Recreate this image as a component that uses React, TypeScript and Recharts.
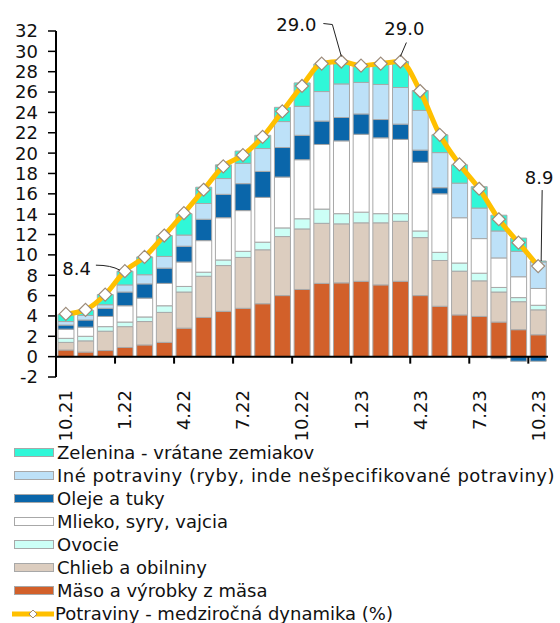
import React from "react";
import {
  ComposedChart,
  Bar,
  Line,
  XAxis,
  YAxis,
  ReferenceLine,
  LabelList,
} from "recharts";

const months = [
  "10.21", "11.21", "12.21", "1.22", "2.22", "3.22", "4.22", "5.22", "6.22",
  "7.22", "8.22", "9.22", "10.22", "11.22", "12.22", "1.23", "2.23", "3.23",
  "4.23", "5.23", "6.23", "7.23", "8.23", "9.23", "10.23",
];

// stacked contributions, bottom to top
const maso = [0.65, 0.45, 0.6, 0.9, 1.15, 1.4, 2.8, 3.85, 4.45, 4.75, 5.2, 6.0, 6.6, 7.2, 7.25, 7.4, 7.05, 7.4, 6.0, 4.95, 4.1, 3.95, 3.4, 2.65, 2.15];
const chlieb = [0.75, 1.1, 1.9, 2.05, 2.3, 2.95, 3.55, 4.05, 4.5, 5.0, 5.3, 5.8, 5.95, 5.9, 5.8, 5.75, 6.1, 5.9, 5.7, 4.5, 4.3, 3.5, 2.95, 2.75, 2.45];
const ovocie = [0.4, 0.45, 0.45, 0.45, 0.45, 0.65, 0.55, 0.4, 0.55, 0.6, 0.75, 0.85, 1.0, 1.4, 1.0, 1.05, 0.9, 0.75, 0.65, 0.8, 0.8, 0.75, 0.45, 0.4, 0.45];
const mlieko = [0.9, 0.9, 1.0, 1.6, 1.85, 2.2, 2.4, 3.1, 4.15, 4.0, 4.4, 5.0, 5.8, 6.35, 7.15, 7.65, 7.45, 7.3, 6.75, 5.75, 4.45, 3.4, 2.9, 2.05, 1.65];
const oleje = [0.4, 0.7, 0.8, 1.35, 1.4, 1.5, 1.55, 2.1, 2.3, 2.65, 2.55, 2.9, 2.4, 2.3, 2.3, 2.0, 1.8, 1.5, 1.2, 0.6, 0, -0.1, -0.2, -0.45, -0.45];
const ine = [0.35, 0.45, 0.35, 0.7, 0.9, 1.15, 1.1, 1.55, 1.55, 2.0, 2.25, 2.55, 2.85, 2.9, 3.3, 3.1, 3.45, 3.6, 3.9, 3.45, 3.4, 3.0, 2.65, 2.5, 2.6];
const zelenina = [0.7, 0.5, 1.0, 1.35, 1.75, 2.05, 2.1, 1.6, 1.35, 1.2, 1.3, 1.4, 2.3, 2.7, 2.2, 1.65, 2.05, 2.55, 1.95, 1.75, 1.8, 2.1, 1.55, 1.3, 0.1];

const potraviny = [4.2, 4.6, 6.1, 8.4, 9.8, 11.9, 14.1, 16.4, 18.7, 19.8, 21.6, 24.1, 26.6, 28.8, 29.0, 28.6, 28.8, 29.0, 26.1, 21.8, 18.9, 16.5, 13.5, 11.2, 8.9];

const yTicks = [-2, 0, 2, 4, 6, 8, 10, 12, 14, 16, 18, 20, 22, 24, 26, 28, 30, 32];
const labeled = [3, 14, 17, 24];

const series = [
  { key: "maso", name: "Mäso a výrobky z mäsa", color: "#D2602A", values: maso },
  { key: "chlieb", name: "Chlieb a obilniny", color: "#DCCDBF", values: chlieb },
  { key: "ovocie", name: "Ovocie", color: "#CCFFF6", values: ovocie },
  { key: "mlieko", name: "Mlieko, syry, vajcia", color: "#FFFFFF", values: mlieko },
  { key: "oleje", name: "Oleje a tuky", color: "#0A66AA", values: oleje },
  { key: "ine", name: "Iné potraviny (ryby, inde nešpecifikované potraviny)", color: "#BDE1F8", values: ine },
  { key: "zelenina", name: "Zelenina - vrátane zemiakov", color: "#30F7D8", values: zelenina },
];

const data = months.map((m, i) => {
  const row: Record<string, number | string> = { m, yoy: potraviny[i] };
  series.forEach((s) => (row[s.key] = s.values[i]));
  return row;
});

const FONT = "'DejaVu Sans', Verdana, sans-serif";
const TXT = "#111";
const BORDER = "#A8A8A8";
const LINE = "#FFC000";

function Diamond({ cx, cy }: any) {
  if (cx == null || cy == null) return null;
  const r = 6.5;
  return (
    <path
      d={`M${cx},${cy - r}L${cx + r},${cy}L${cx},${cy + r}L${cx - r},${cy}Z`}
      fill="#fff"
      stroke="#9C8B7A"
      strokeWidth={1.2}
    />
  );
}

function MonthTick({ x, y, payload }: any) {
  return (
    <g transform={`translate(${x},${y + 5}) rotate(-90)`}>
      <text x={0} y={0} dy="0.36em" textAnchor="end" fill={TXT} fontSize={18} fontFamily={FONT}>
        {payload.value}
      </text>
    </g>
  );
}

// x axis drawn on the zero line, with a tick every 3 months
function ZeroAxis(props: any) {
  const { x1, x2, y1 } = props;
  const band = (x2 - x1) / months.length;
  const ticks = [];
  for (let k = 0; k * 3 < months.length; k++) {
    const tx = x1 + k * 3 * band;
    ticks.push(<line key={k} x1={tx} x2={tx} y1={y1} y2={y1 + 7} stroke="#000" strokeWidth={2} />);
  }
  return (
    <g>
      <line x1={x1} x2={x2} y1={y1} y2={y1} stroke="#000" strokeWidth={2} />
      {ticks}
    </g>
  );
}

function PointLabel({ x, y, value, index }: any) {
  if (!labeled.includes(index)) return null;
  const txt = Number(value).toFixed(1);
  const common = { fill: TXT, fontSize: 18, fontFamily: FONT };
  if (index === 3) {
    return (
      <g>
        <path d={`M${x - 29},${y - 6} Q${x - 14},${y - 6} ${x - 5},${y - 1}`} fill="none" stroke="#222" strokeWidth={1} />
        <text x={x - 34} y={y - 3} dy="0.36em" textAnchor="end" {...common}>{txt}</text>
      </g>
    );
  }
  if (index === 14) {
    return (
      <g>
        <path d={`M${x - 18},${y - 38} L${x - 9},${y - 37} L${x},${y - 5}`} fill="none" stroke="#222" strokeWidth={1} />
        <text x={x - 25} y={y - 37} dy="0.36em" textAnchor="end" {...common}>{txt}</text>
      </g>
    );
  }
  if (index === 17) {
    return (
      <g>
        <path d={`M${x + 6},${y - 19} L${x},${y - 5}`} fill="none" stroke="#222" strokeWidth={1} />
        <text x={x + 4} y={y - 33} dy="0.36em" textAnchor="middle" {...common}>{txt}</text>
      </g>
    );
  }
  return (
    <g>
      <path d={`M${x + 4},${y - 76} L${x + 3},${y - 5}`} fill="none" stroke="#222" strokeWidth={1} />
      <text x={x + 1} y={y - 89} dy="0.36em" textAnchor="middle" {...common}>{txt}</text>
    </g>
  );
}

function LegendRows() {
  const rows = [...series].reverse();
  return (
    <div style={{ position: "absolute", left: 0, top: 441, fontFamily: FONT, fontSize: 18, color: TXT }}>
      {rows.map((s) => (
        <div key={s.key} style={{ height: 23, display: "flex", alignItems: "center", whiteSpace: "nowrap" }}>
          <span
            style={{
              display: "inline-block",
              width: 38,
              height: 7,
              marginLeft: 14,
              marginRight: 3,
              background: s.color,
              border: `1px solid ${BORDER}`,
            }}
          />
          <span style={s.key === "ine" ? { letterSpacing: 0.5 } : undefined}>{s.name}</span>
        </div>
      ))}
      <div style={{ height: 23, display: "flex", alignItems: "center", whiteSpace: "nowrap" }}>
        <svg width={42} height={12} style={{ marginLeft: 12, marginRight: 1 }}>
          <line x1={0} x2={42} y1={6} y2={6} stroke={LINE} strokeWidth={5} />
          <path d="M21,2L25,6L21,10L17,6Z" fill="#fff" stroke="#9C8B7A" strokeWidth={1} />
        </svg>
        <span>Potraviny - medziročná dynamika (%)</span>
      </div>
    </div>
  );
}

export default function App() {
  return (
    <div style={{ position: "absolute", left: 0, top: 0, width: 560, height: 623, background: "#fff" }}>
      <ComposedChart
        width={560}
        height={444}
        data={data}
        stackOffset="sign"
        barCategoryGap="10%"
        margin={{ top: 31, right: 12, left: 0, bottom: 0 }}
        style={{ overflow: "visible" }}
      >
        <XAxis
          dataKey="m"
          interval={2}
          axisLine={false}
          tickLine={false}
          height={67}
          tick={<MonthTick />}
        />
        <YAxis
          domain={[-2, 32]}
          ticks={yTicks}
          width={56}
          interval={0}
          tickSize={8}
          tickMargin={10}
          axisLine={{ stroke: "#000", strokeWidth: 2 }}
          tickLine={{ stroke: "#000", strokeWidth: 1.5 }}
          tick={{ fill: TXT, fontSize: 18, fontFamily: FONT }}
        />
        {series.map((s) => (
          <Bar
            key={s.key}
            dataKey={s.key}
            name={s.name}
            stackId="a"
            fill={s.color}
            stroke={BORDER}
            strokeWidth={1}
            isAnimationActive={false}
          />
        ))}
        <ReferenceLine y={0} shape={<ZeroAxis />} />
        <Line
          dataKey="yoy"
          name="Potraviny - medziročná dynamika (%)"
          type="monotone"
          stroke={LINE}
          strokeWidth={5}
          dot={<Diamond />}
          activeDot={false}
          isAnimationActive={false}
        >
          <LabelList dataKey="yoy" content={<PointLabel />} />
        </Line>
      </ComposedChart>
      <LegendRows />
    </div>
  );
}
